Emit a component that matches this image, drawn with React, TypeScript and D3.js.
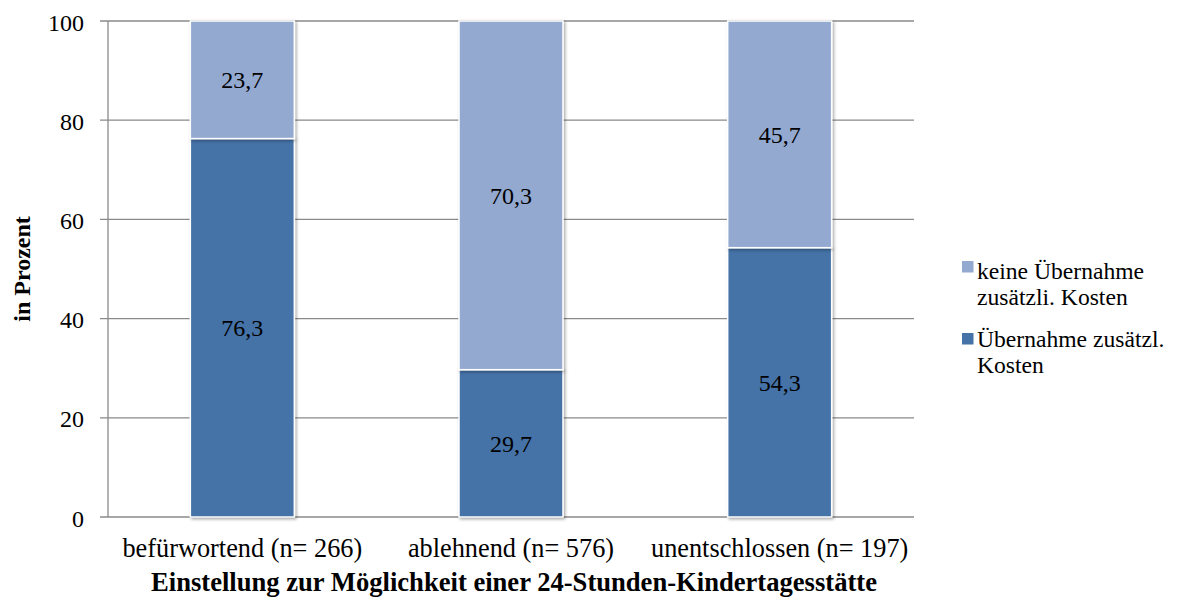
import React from "react";
import * as d3 from "d3";

const categories = ["befürwortend (n= 266)", "ablehnend (n= 576)", "unentschlossen (n= 197)"];
const uebernahme = [76.3, 29.7, 54.3];
const keineUebernahme = [23.7, 70.3, 45.7];
const yTicks = [0, 20, 40, 60, 80, 100];

const W = 1178;
const H = 612;
const FONT = '"Liberation Serif", "Times New Roman", Tinos, serif';
const DARK = "#4572A7";
const LIGHT = "#93A9D0";
const GRID = "#8a8a8a";

export default function App() {
  const left = 108, right = 914, top = 21, bottom = 517;
  const x = d3.scaleBand<string>().domain(categories).range([left, right]).paddingInner(0.613).paddingOuter(0.3065);
  const y = d3.scaleLinear().domain([0, 100]).range([bottom, top]);
  const fmt = (v: number) => v.toFixed(1).replace(".", ",");
  const ts: React.CSSProperties = { fontFamily: FONT };

  const stacked = categories.map((c, i) => {
    const a = uebernahme[i];
    const b = keineUebernahme[i];
    return [
      { cat: c, y0: 0, y1: a, v: a, color: DARK },
      { cat: c, y0: a, y1: a + b, v: b, color: LIGHT },
    ];
  });

  return (
    <svg width={W} height={H} style={{ position: "absolute", left: 0, top: 0, display: "block", fontFamily: FONT }}>
      <defs>
        <filter id="sh" x="-20%" y="-20%" width="140%" height="140%">
          <feDropShadow dx="1.5" dy="1.5" stdDeviation="1.5" floodColor="#000" floodOpacity="0.35" />
        </filter>
      </defs>
      <rect width={W} height={H} fill="#fff" />
      {yTicks.map((t) => (
        <g key={t}>
          <line x1={left - 8} x2={right} y1={y(t)} y2={y(t)} stroke={GRID} strokeWidth={1.3} />
          <text x={left - 24} y={y(t) + 9.5} textAnchor="end" fontSize={24} fill="#000" style={ts}>
            {t}
          </text>
        </g>
      ))}
      <line x1={left} x2={left} y1={top} y2={bottom} stroke={GRID} strokeWidth={1.3} />
      {stacked.map((segs) =>
        segs.map((s, j) => (
          <rect
            key={s.cat + j}
            x={x(s.cat)!}
            y={y(s.y1)}
            width={x.bandwidth()}
            height={y(s.y0) - y(s.y1)}
            fill={s.color}
            stroke="#fff"
            strokeWidth={1.5}
            filter="url(#sh)"
          />
        ))
      )}
      {stacked.map((segs) =>
        segs.map((s, j) => (
          <text
            key={"l" + s.cat + j}
            x={x(s.cat)! + x.bandwidth() / 2}
            y={(y(s.y0) + y(s.y1)) / 2 + 8.5}
            textAnchor="middle"
            fontSize={24}
            fill="#000"
            style={ts}
          >
            {fmt(s.v)}
          </text>
        ))
      )}
      {categories.map((c) => (
        <text key={c} x={x(c)! + x.bandwidth() / 2} y={557} textAnchor="middle" fontSize={26.3} fill="#000" style={ts}>
          {c}
        </text>
      ))}
      <text x={(left + right) / 2 + 3} y={591} textAnchor="middle" fontSize={26.6} fontWeight="bold" fill="#000" style={ts}>
        Einstellung zur Möglichkeit einer 24-Stunden-Kindertagesstätte
      </text>
      <text
        transform={`translate(22, ${(top + bottom) / 2}) rotate(-90)`}
        dy="0.35em"
        textAnchor="middle"
        fontSize={24}
        fontWeight="bold"
        fill="#000"
        style={ts}
      >
        in Prozent
      </text>
      <g>
        <rect x={962} y={261} width={11.5} height={11.5} fill={LIGHT} />
        <text x={977} y={279} fontSize={23.6} fill="#000" style={ts}>keine Übernahme</text>
        <text x={977} y={305} fontSize={23.6} fill="#000" style={ts}>zusätzli. Kosten</text>
        <rect x={962} y={333} width={11.5} height={11.5} fill={DARK} />
        <text x={977} y={347} fontSize={23.6} fill="#000" style={ts}>Übernahme zusätzl.</text>
        <text x={977} y={373} fontSize={23.6} fill="#000" style={ts}>Kosten</text>
      </g>
    </svg>
  );
}
